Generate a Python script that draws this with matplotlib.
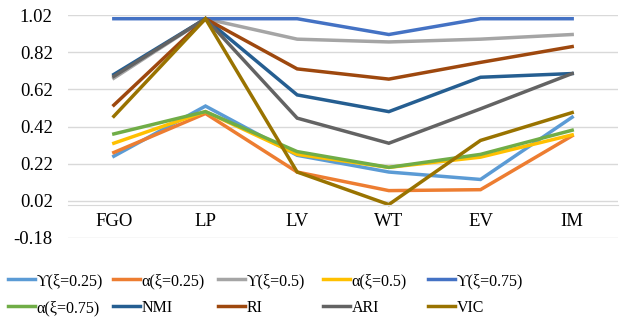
import matplotlib
matplotlib.use("Agg")
from matplotlib import pyplot as plt

categories = ["FGO", "LP", "LV", "WT", "EV", "IM"]

series_names = ["ϒ(ξ=0.25)", "α(ξ=0.25)", "ϒ(ξ=0.5)", "α(ξ=0.5)", "ϒ(ξ=0.75)",
                "α(ξ=0.75)", "NMI", "RI", "ARI", "VIC"]
y_025 = [0.26, 0.53, 0.265, 0.175, 0.135, 0.47]
a_025 = [0.28, 0.49, 0.175, 0.075, 0.08, 0.37]
y_05 = [0.68, 1.0, 0.89, 0.875, 0.89, 0.915]
a_05 = [0.33, 0.50, 0.27, 0.20, 0.255, 0.375]
y_075 = [1.0, 1.0, 1.0, 0.915, 1.0, 1.0]
a_075 = [0.38, 0.50, 0.285, 0.20, 0.27, 0.40]
nmi = [0.70, 1.0, 0.59, 0.50, 0.685, 0.705]
ri = [0.535, 1.0, 0.73, 0.675, 0.765, 0.85]
ari = [0.69, 1.0, 0.465, 0.33, 0.515, 0.705]
vic = [0.475, 1.0, 0.175, 0.0, 0.345, 0.495]

colors = ["#5B9BD5", "#ED7D31", "#A5A5A5", "#FFC000", "#4472C4",
          "#70AD47", "#255E91", "#9E480E", "#636363", "#997300"]
yticks = [-0.18, 0.02, 0.22, 0.42, 0.62, 0.82, 1.02]


def main():
    """main"""
    plt.rcParams['font.family'] = ['Liberation Serif', 'DejaVu Serif']
    plt.rcParams['font.size'] = 13.5
    W, H = 631, 331
    fig = plt.figure(figsize=(W / 100, H / 100), dpi=100)
    ax = fig.add_axes([68 / W, 1 - 238 / H, 550 / W, 223 / H])
    data = [y_025, a_025, y_05, a_05, y_075, a_075, nmi, ri, ari, vic]
    x = list(range(len(categories)))
    handles = []
    for name, vals, c in zip(series_names, data, colors):
        h, = ax.plot(x, vals, color=c, linewidth=2.5, label=name,
                     solid_joinstyle='miter')
        handles.append(h)
    ax.set_xlim(-0.5, len(categories) - 0.5)
    ax.set_ylim(-0.18, 1.02)
    ax.set_yticks(yticks)
    ax.set_yticklabels(["%.2f" % v for v in yticks])
    ax.set_xticks(x)
    ax.set_xticklabels(categories)
    ax.grid(axis='y', color='#D9D9D9', linewidth=1)
    ax.set_axisbelow(True)
    for s in ['top', 'right', 'left']:
        ax.spines[s].set_visible(False)
    ax.spines['bottom'].set_position(('data', 0))
    ax.spines['bottom'].set_color('#D9D9D9')
    ax.tick_params(axis='both', length=0)
    ax.tick_params(axis='x', pad=6)
    ax.tick_params(axis='y', pad=11)

    # legend laid out like Excel: 5 per row, fixed column pitch
    for i, h in enumerate(handles):
        col, row = i % 5, i // 5
        fig.legend([h], [h.get_label()], loc='center left',
                   bbox_to_anchor=((8 + 105 * col) / W, 1 - (281 + 27 * row) / H),
                   frameon=False, fontsize=11.5, handlelength=1.7,
                   handletextpad=0.1, borderpad=0, borderaxespad=0)
    fig.savefig("out.png", dpi=100)


if __name__ == "__main__":
    main()
